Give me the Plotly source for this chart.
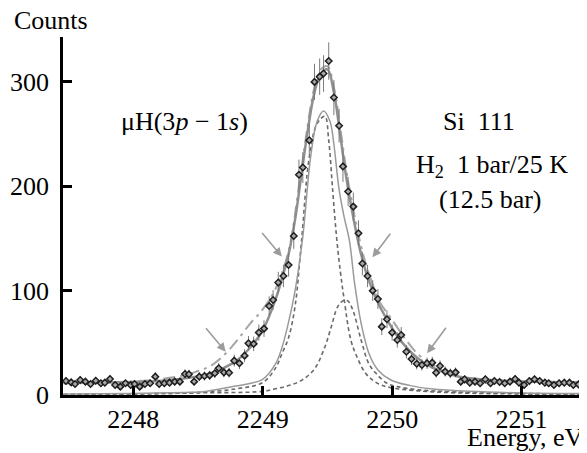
import plotly.graph_objects as go

# ---------------- data ----------------
energy = [2247.48, 2247.52, 2247.55, 2247.59, 2247.63, 2247.67, 2247.71, 2247.75, 2247.78, 2247.82,
          2247.86, 2247.90, 2247.94, 2247.98, 2248.01, 2248.05, 2248.09, 2248.13, 2248.17, 2248.20,
          2248.24, 2248.28, 2248.32, 2248.36, 2248.40, 2248.43, 2248.47, 2248.51, 2248.55, 2248.59,
          2248.63, 2248.66, 2248.70, 2248.74, 2248.78, 2248.82, 2248.86, 2248.89, 2248.93, 2248.97,
          2249.01, 2249.05, 2249.08, 2249.12, 2249.16, 2249.20, 2249.24, 2249.28, 2249.31, 2249.36,
          2249.40, 2249.44, 2249.47, 2249.51, 2249.55, 2249.59, 2249.62, 2249.66, 2249.70, 2249.74,
          2249.77, 2249.81, 2249.85, 2249.89, 2249.92, 2249.96, 2250.00, 2250.04, 2250.07, 2250.11,
          2250.15, 2250.19, 2250.23, 2250.27, 2250.31, 2250.34, 2250.37, 2250.41, 2250.45, 2250.49,
          2250.53, 2250.56, 2250.60, 2250.64, 2250.68, 2250.72, 2250.76, 2250.79, 2250.83, 2250.87,
          2250.91, 2250.95, 2250.98, 2251.02, 2251.06, 2251.10, 2251.14, 2251.18, 2251.21, 2251.25,
          2251.29, 2251.33, 2251.37, 2251.40, 2251.44, 2251.48]
counts = [13.4, 12.1, 10.5, 14.4, 12.8, 10.5, 13.7, 11.2, 11.8, 15.3,
          9.6, 8.0, 11.2, 9.6, 10.5, 8.0, 10.5, 11.2, 17.6, 10.5,
          11.2, 11.8, 12.8, 12.8, 20.1, 19.8, 12.8, 17.6, 18.2, 18.8,
          20.8, 25.6, 21.7, 21.4, 32.9, 30.4, 37.7, 49.5, 49.0, 59.8,
          63.6, 85.3, 91.0, 107.7, 114.0, 124.6, 152.4, 211.0, 218.0, 244.0,
          300.0, 305.0, 308.0, 320.0, 285.0, 258.0, 219.0, 195.0, 180.5, 155.0,
          126.0, 114.0, 100.0, 92.0, 65.5, 72.6, 59.8, 52.7, 57.5, 41.5,
          34.5, 30.0, 28.8, 30.4, 31.0, 21.4, 27.8, 22.4, 20.8, 21.7,
          12.8, 15.0, 11.8, 12.8, 11.2, 15.0, 11.2, 13.4, 12.5, 11.2,
          12.8, 15.3, 11.8, 9.6, 13.4, 15.0, 13.4, 11.8, 11.2, 9.6,
          11.2, 11.8, 11.8, 9.6, 10.2, 11.2]
count_err = [c ** 0.5 for c in counts]   # Poisson error bars of the read counts

# total fit (solid, through the data)
fit_E = [2247.46, 2247.8, 2248.0, 2248.2, 2248.4, 2248.6, 2248.7, 2248.8, 2248.9, 2249.0,
         2249.1, 2249.15, 2249.2, 2249.25, 2249.3, 2249.35, 2249.4, 2249.45, 2249.5, 2249.55,
         2249.6, 2249.65, 2249.7, 2249.75, 2249.8, 2249.85, 2249.9, 2250.0, 2250.1, 2250.2,
         2250.3, 2250.4, 2250.5, 2250.6, 2250.8, 2251.0, 2251.2, 2251.48]
fit_C = [12, 12, 12.5, 13.5, 16, 21, 26, 33, 45, 62,
         92, 112, 135, 168, 212, 255, 290, 308, 312, 290,
         248, 205, 170, 140, 117, 100, 86, 64, 47, 35,
         27, 22, 18, 16, 14, 13, 12.5, 12]

# alternative fit (dash-dot)
alt_E = [2247.46, 2247.8, 2248.0, 2248.2, 2248.4, 2248.5, 2248.6, 2248.7, 2248.8, 2248.9,
         2249.0, 2249.1, 2249.2, 2249.3, 2249.4, 2249.45, 2249.5, 2249.55, 2249.6, 2249.65,
         2249.7, 2249.75, 2249.8, 2249.85, 2249.9, 2250.0, 2250.1, 2250.2, 2250.3, 2250.4,
         2250.5, 2250.6, 2250.8, 2251.0, 2251.2, 2251.48]
alt_C = [11, 12, 13, 15, 19, 23, 28, 38, 52, 68,
         82, 102, 138, 218, 295, 312, 315, 295, 255, 212,
         178, 148, 124, 106, 90, 72, 54, 39, 30, 23,
         19, 16, 14, 13, 12, 12]

# narrow solid line
resp_E = [2247.46, 2248.0, 2248.4, 2248.54, 2248.79, 2248.9, 2249.0, 2249.1, 2249.15, 2249.2,
          2249.25, 2249.31, 2249.37, 2249.42, 2249.47, 2249.52, 2249.55, 2249.59, 2249.63, 2249.67,
          2249.71, 2249.76, 2249.82, 2249.89, 2249.99, 2250.14, 2250.3, 2250.6, 2251.0, 2251.48]
resp_C = [1, 1.5, 2.5, 3.2, 8.6, 11, 15, 30, 46, 70,
          100, 152, 228, 262, 272, 262, 240, 197, 170, 148,
          107, 69, 40, 24, 14.4, 9, 6, 3.5, 2, 1.5]

# main component (dashed)
comp1_E = [2247.46, 2248.0, 2248.5, 2248.8, 2249.0, 2249.1, 2249.15, 2249.2, 2249.25, 2249.3,
           2249.36, 2249.42, 2249.48, 2249.51, 2249.54, 2249.57, 2249.6, 2249.63, 2249.68, 2249.73,
           2249.8, 2249.89, 2249.99, 2250.2, 2250.5, 2251.0, 2251.48]
comp1_C = [0.5, 1, 2.5, 6, 12, 26, 40, 55, 85, 148,
           228, 260, 267, 244, 197, 152, 118, 91, 53, 36,
           20, 11, 7, 4, 2, 1, 0.5]

# second component (dashed)
comp2_E = [2247.46, 2248.0, 2248.5, 2249.0, 2249.1, 2249.2, 2249.3, 2249.4, 2249.48, 2249.53,
           2249.58, 2249.63, 2249.66, 2249.70, 2249.76, 2249.82, 2249.875, 2249.96, 2250.04, 2250.2,
           2250.5, 2251.0, 2251.48]
comp2_C = [0.5, 1, 2, 3.5, 6, 9, 14, 25, 46, 65.5,
           84.7, 91, 90, 80, 52.7, 30, 20.8, 11.2, 8, 5,
           3, 1.5, 1]

x_ticks = [2248, 2249, 2250, 2251]
y_ticks = [0, 100, 200, 300]

# ---------------- figure ----------------
SERIF = "Liberation Serif"
FS = 26
fig = go.Figure()

fig.add_trace(go.Scatter(x=comp1_E, y=comp1_C, mode="lines", line_shape="spline",
                         line=dict(color="#6a6a6a", width=1.6, dash="4px,3px")))
fig.add_trace(go.Scatter(x=comp2_E, y=comp2_C, mode="lines", line_shape="spline",
                         line=dict(color="#6a6a6a", width=1.6, dash="4px,3px")))
fig.add_trace(go.Scatter(x=resp_E, y=resp_C, mode="lines", line_shape="spline",
                         line=dict(color="#9a9a9a", width=1.5)))
fig.add_trace(go.Scatter(x=alt_E, y=alt_C, mode="lines", line_shape="spline",
                         line=dict(color="#a5a5a5", width=2, dash="12px,5px,3px,5px")))
fig.add_trace(go.Scatter(x=fit_E, y=fit_C, mode="lines", line_shape="spline",
                         line=dict(color="#8f8f8f", width=2.5)))
fig.add_trace(go.Scatter(x=energy, y=counts, mode="markers",
                         marker=dict(symbol="diamond", size=5, color="#a8a8a8",
                                     line=dict(color="#1e1e1e", width=1.5)),
                         error_y=dict(type="data", array=count_err, visible=True,
                                      color="#7a7a7a", thickness=1, width=0)))

arrow_style = dict(showarrow=True, text="", arrowhead=2, arrowsize=1.1,
                   arrowwidth=1.6, arrowcolor="#9c9c9c", xref="x", yref="y")
annotations = [
    dict(x=2249.148, y=132.6, ax=-21, ay=-25, **arrow_style),
    dict(x=2248.714, y=41.5, ax=-21, ay=-25, **arrow_style),
    dict(x=2249.848, y=132.0, ax=19, ay=-25, **arrow_style),
    dict(x=2250.27, y=40.0, ax=20, ay=-27, **arrow_style),
]
text_font = dict(family=SERIF, size=FS, color="black")
annotations += [
    dict(text="Counts", xref="paper", yref="paper", x=-0.097, y=1.045,
         xanchor="left", yanchor="middle", showarrow=False, font=text_font),
    dict(text="Energy, eV", xref="paper", yref="paper", x=1.0, y=-0.118,
         xanchor="right", yanchor="middle", showarrow=False, font=text_font),
    dict(text="\u03bcH(3<i>p</i> \u2212 1<i>s</i>)", xref="paper", yref="paper",
         x=0.233, y=0.763, xanchor="center", yanchor="middle", showarrow=False, font=text_font),
    dict(text="Si  111", xref="paper", yref="paper", x=0.797, y=0.765,
         xanchor="center", yanchor="middle", showarrow=False, font=text_font),
    dict(text="H<sub>2</sub>  1 bar/25 K", xref="paper", yref="paper", x=0.821, y=0.640,
         xanchor="center", yanchor="middle", showarrow=False, font=text_font),
    dict(text="(12.5 bar)", xref="paper", yref="paper", x=0.8185, y=0.545,
         xanchor="center", yanchor="middle", showarrow=False, font=text_font),
]

# the page body has an 8px default margin, so the figure is made 8px smaller
fig.update_layout(
    width=579, height=445,
    margin=dict(l=51, r=2, t=29, b=58),
    paper_bgcolor="white", plot_bgcolor="white",
    showlegend=False,
    font=dict(family=SERIF, size=FS, color="black"),
    annotations=annotations,
    shapes=[dict(type="line", xref="paper", yref="paper", x0=1.0, x1=1.0, y0=0.46, y1=0.97,
                 line=dict(color="#d8d8d8", width=1))],
)
fig.update_xaxes(range=[2247.457, 2251.49], tickvals=x_ticks, ticktext=[str(v) for v in x_ticks],
                 showline=True, linecolor="black", linewidth=2.5, ticks="inside",
                 ticklen=9, tickwidth=2.5, tickcolor="black", showgrid=False, zeroline=False,
                 ticklabelstandoff=-1, tickfont=dict(family=SERIF, size=FS))
fig.update_yaxes(range=[0, 343], tickvals=y_ticks, ticktext=[str(v) for v in y_ticks],
                 showline=True, linecolor="black", linewidth=2.5, ticks="inside",
                 ticklen=9, tickwidth=2.5, tickcolor="black", showgrid=False, zeroline=False,
                 ticklabelstandoff=6, tickfont=dict(family=SERIF, size=FS))

fig.write_html("out.html")
